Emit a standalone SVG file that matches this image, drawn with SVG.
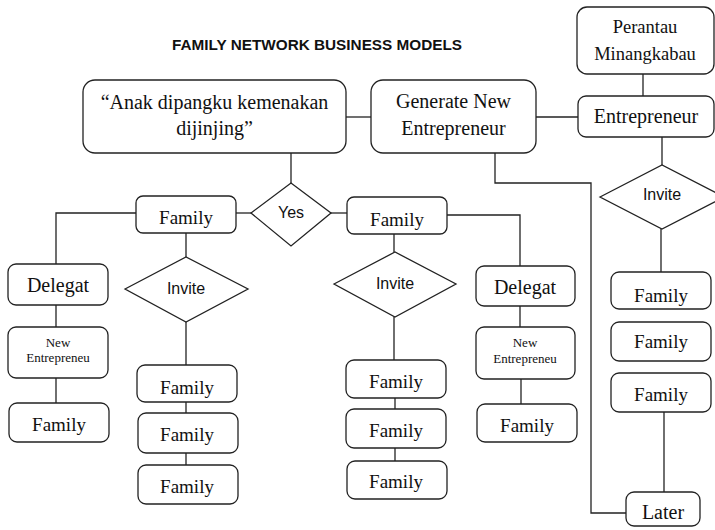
<svg xmlns="http://www.w3.org/2000/svg" width="715" height="530" viewBox="0 0 715 530">
<style>
.box{fill:#fff;stroke:#222;stroke-width:1.3}
.dia{fill:#fff;stroke:#222;stroke-width:1.3}
.ln{fill:none;stroke:#222;stroke-width:1.3}
.t{font-family:"Liberation Serif","Times New Roman",serif;fill:#111;text-anchor:middle}
.s{font-family:"Liberation Sans",Arial,sans-serif;fill:#111;text-anchor:middle;font-size:16px}
.title{font-family:"Liberation Sans",Arial,sans-serif;font-weight:bold;font-size:15px;fill:#111;text-anchor:middle}
</style>
<rect width="715" height="530" fill="#fff"/>
<text class="title" x="317" y="50" textLength="290" lengthAdjust="spacingAndGlyphs">FAMILY NETWORK BUSINESS MODELS</text>
<g id="connectors">
<path class="ln" d="M346 117H371"/>
<path class="ln" d="M536 117H578"/>
<path class="ln" d="M643 74V96"/>
<path class="ln" d="M662 137V165"/>
<path class="ln" d="M661 229V272"/>
<path class="ln" d="M664 412V492"/>
<path class="ln" d="M495 153V183H591V513H626"/>
<path class="ln" d="M291 153V183"/>
<path class="ln" d="M236 213H251"/>
<path class="ln" d="M331 213H347"/>
<path class="ln" d="M136 213H56V264"/>
<path class="ln" d="M186 233V257"/>
<path class="ln" d="M186 322V365"/>
<path class="ln" d="M186 402V413"/>
<path class="ln" d="M186 453V465"/>
<path class="ln" d="M56 305V327"/>
<path class="ln" d="M56 378V403"/>
<path class="ln" d="M447 215H520V266"/>
<path class="ln" d="M394 234V252"/>
<path class="ln" d="M394 317V360"/>
<path class="ln" d="M395 398V409"/>
<path class="ln" d="M395 448V461"/>
<path class="ln" d="M520 306V327"/>
<path class="ln" d="M521 379V404"/>
</g>
<g id="anak"><rect class="box" x="83" y="80" width="263" height="73" rx="12"/><text class="t" font-size="20" x="214.5" y="109">“Anak dipangku kemenakan</text><text class="t" font-size="20" x="214.5" y="135">dijinjing”</text></g>
<g id="generate"><rect class="box" x="371" y="80" width="165" height="73" rx="12"/><text class="t" font-size="20" x="453.5" y="108">Generate New</text><text class="t" font-size="20" x="453.5" y="135">Entrepreneur</text></g>
<g id="perantau"><rect class="box" x="577" y="7" width="137" height="67" rx="10"/><text class="t" font-size="18.5" x="645" y="33">Perantau</text><text class="t" font-size="18.5" x="645" y="60">Minangkabau</text></g>
<g id="entrepreneur"><rect class="box" x="578" y="96" width="136" height="41" rx="8"/><text class="t" font-size="20" x="646" y="123">Entrepreneur</text></g>
<g id="invite-r"><polygon class="dia" points="600,197 662,165 724,197 662,229"/><text class="s" x="662" y="200">Invite</text></g>
<g id="family-r1"><rect class="box" x="611" y="272" width="100" height="37" rx="8"/><text class="t" font-size="19" x="661" y="302">Family</text></g>
<g id="family-r2"><rect class="box" x="611" y="322" width="100" height="39" rx="8"/><text class="t" font-size="19" x="661" y="348">Family</text></g>
<g id="family-r3"><rect class="box" x="611" y="373" width="100" height="39" rx="8"/><text class="t" font-size="19" x="661" y="401">Family</text></g>
<g id="later"><rect class="box" x="626" y="492" width="74" height="34" rx="8"/><text class="t" font-size="20" x="663" y="519">Later</text></g>
<g id="yes"><polygon class="dia" points="251,213 291,183 331,213 291,246"/><text class="s" x="291" y="218">Yes</text></g>
<g id="family-l"><rect class="box" x="136" y="196" width="100" height="37" rx="7"/><text class="t" font-size="19" x="186" y="224">Family</text></g>
<g id="family-c"><rect class="box" x="347" y="197" width="100" height="37" rx="7"/><text class="t" font-size="19" x="397" y="226">Family</text></g>
<g id="delegat-l"><rect class="box" x="8" y="264" width="100" height="41" rx="8"/><text class="t" font-size="20" x="58" y="292">Delegat</text></g>
<g id="newent-l"><rect class="box" x="8" y="327" width="100" height="51" rx="8"/><text class="t" font-size="13" x="58" y="347">New</text><text class="t" font-size="13" x="58" y="362">Entrepreneu</text></g>
<g id="family-l4"><rect class="box" x="9" y="403" width="100" height="39" rx="8"/><text class="t" font-size="19" x="59" y="431">Family</text></g>
<g id="invite-l"><polygon class="dia" points="125,289 186,257 248,289 186,322"/><text class="s" x="186" y="294">Invite</text></g>
<g id="family-l1"><rect class="box" x="137" y="365" width="100" height="37" rx="8"/><text class="t" font-size="19" x="187" y="394">Family</text></g>
<g id="family-l2"><rect class="box" x="138" y="413" width="100" height="40" rx="8"/><text class="t" font-size="19" x="187" y="441">Family</text></g>
<g id="family-l3"><rect class="box" x="138" y="465" width="100" height="39" rx="8"/><text class="t" font-size="19" x="187" y="493">Family</text></g>
<g id="invite-c"><polygon class="dia" points="334,284 395,252 456,284 395,317"/><text class="s" x="395" y="289">Invite</text></g>
<g id="family-c1"><rect class="box" x="346" y="360" width="100" height="38" rx="8"/><text class="t" font-size="19" x="396" y="388">Family</text></g>
<g id="family-c2"><rect class="box" x="346" y="409" width="100" height="39" rx="8"/><text class="t" font-size="19" x="396" y="437">Family</text></g>
<g id="family-c3"><rect class="box" x="347" y="461" width="100" height="38" rx="8"/><text class="t" font-size="19" x="396" y="488">Family</text></g>
<g id="delegat-r"><rect class="box" x="476" y="266" width="99" height="40" rx="8"/><text class="t" font-size="20" x="525" y="294">Delegat</text></g>
<g id="newent-r"><rect class="box" x="476" y="327" width="99" height="52" rx="8"/><text class="t" font-size="13" x="525" y="347">New</text><text class="t" font-size="13" x="525" y="363">Entrepreneu</text></g>
<g id="family-r4"><rect class="box" x="477" y="404" width="100" height="38" rx="8"/><text class="t" font-size="19" x="527" y="432">Family</text></g>
</svg>
